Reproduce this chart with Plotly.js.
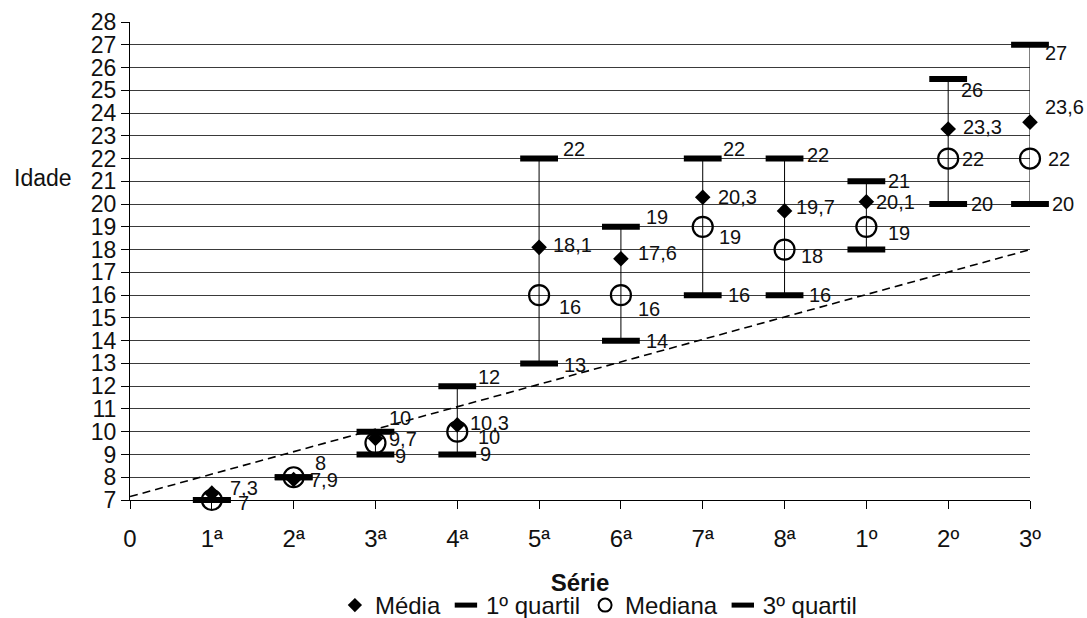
<!DOCTYPE html>
<html>
<head>
<meta charset="utf-8">
<script src="https://cdn.plot.ly/plotly-3.0.1.min.js"></script>
<style>
  html, body { margin: 0; padding: 0; background: #ffffff; }
  #chart { width: 1087px; height: 618px; }
</style>
</head>
<body>
<div id="chart"></div>
<script>
// ---------- data ----------
const categories = ["0", "1ª", "2ª", "3ª", "4ª", "5ª", "6ª", "7ª", "8ª", "1º", "2º", "3º"];
const series = ["1ª", "2ª", "3ª", "4ª", "5ª", "6ª", "7ª", "8ª", "1º", "2º", "3º"];
const media    = [7.3, 7.9, 9.7, 10.3, 18.1, 17.6, 20.3, 19.7, 20.1, 23.3, 23.6];
const quartil1 = [7, 8, 9, 9, 13, 14, 16, 16, 18, 20, 20];
const mediana  = [7, 8, 9.5, 10, 16, 16, 19, 18, 19, 22, 22];
const quartil3 = [7, 8, 10, 12, 22, 19, 22, 22, 21, 25.5, 27];

// data-label texts as printed in the reference (blank = not printed)
const rotuloMedia    = ["7,3", "7,9", "9,7", "10,3", "18,1", "17,6", "20,3", "19,7", "20,1", "23,3", "23,6"];
const rotuloQ1       = ["", "", "9", "9", "13", "14", "16", "16", "", "20", "20"];
const rotuloMediana  = ["7", "", "", "10", "16", "16", "19", "18", "19", "22", "22"];
const rotuloQ3       = ["", "8", "10", "12", "22", "19", "22", "22", "21", "26", "27"];

// dashed reference line
const refX = ["0", "3º"];
const refY = [7.15, 18];

// y axis ticks
const yTicks = [7, 8, 9, 10, 11, 12, 13, 14, 15, 16, 17, 18, 19, 20, 21, 22, 23, 24, 25, 26, 27, 28];

// ---------- label placement (pixels: dx right, dy down) ----------
const offMedia   = [[18,-5],[16,0],[14,0],[13,-2],[14,-2],[17,-6],[15,0],[11,-4],[10,0],[15,-2],[15,-15]];
const offQ1      = [[0,0],[0,0],[20,2],[23,0],[25,2],[25,0],[25,0],[24,0],[0,0],[23,0],[22,0]];
const offMediana = [[26,3],[0,0],[0,0],[21,5],[20,12],[17,14],[16,10],[16,6],[22,6],[14,0],[18,0]];
const offQ3      = [[0,0],[21,-14],[14,-14],[21,-9],[24,-10],[25,-10],[20,-10],[22,-4],[22,0],[13,11],[15,8]];

const FONT = "Liberation Sans, Arial, Helvetica, sans-serif";
const INK = "#111111";

// whiskers built from quartiles
const wx = [], wy = [];
series.forEach((s, i) => { wx.push(s, s, null); wy.push(quartil1[i], quartil3[i], null); });

const traces = [
  { x: refX, y: refY, type: "scatter", mode: "lines", showlegend: false, hoverinfo: "skip",
    line: { color: "#000000", width: 1.6, dash: "8px,5px" } },
  { x: wx, y: wy, type: "scatter", mode: "lines", showlegend: false, hoverinfo: "skip",
    line: { color: "#000000", width: 1 } },
  { x: series, y: quartil1, name: "1º quartil", type: "scatter", mode: "markers", showlegend: false, cliponaxis: false,
    marker: { symbol: "line-ew", size: 27, color: "#000000", line: { color: "#000000", width: 6 } } },
  { x: series, y: quartil3, name: "3º quartil", type: "scatter", mode: "markers", showlegend: false, cliponaxis: false,
    marker: { symbol: "line-ew", size: 27, color: "#000000", line: { color: "#000000", width: 6 } } },
  { x: series, y: mediana, name: "Mediana", type: "scatter", mode: "markers", showlegend: false, cliponaxis: false,
    marker: { symbol: "circle-open", size: 20, color: "#000000", line: { color: "#000000", width: 2.2 } } },
  { x: series, y: media, name: "Média", type: "scatter", mode: "markers", showlegend: false, cliponaxis: false,
    marker: { symbol: "diamond", size: 12, color: "#000000", line: { width: 0 } } },
  // legend entries (no points drawn)
  { x: [null], y: [null], name: "Média", type: "scatter", mode: "markers", legendrank: 1,
    marker: { symbol: "diamond", size: 11, color: "#000000", line: { width: 0 } } },
  { x: [null], y: [null], name: "1º quartil", type: "scatter", mode: "markers", legendrank: 2,
    marker: { symbol: "line-ew", size: 18, color: "#000000", line: { color: "#000000", width: 5 } } },
  { x: [null], y: [null], name: "Mediana", type: "scatter", mode: "markers", legendrank: 3,
    marker: { symbol: "circle-open", size: 13, color: "#000000", line: { color: "#000000", width: 2 } } },
  { x: [null], y: [null], name: "3º quartil", type: "scatter", mode: "markers", legendrank: 4,
    marker: { symbol: "line-ew", size: 18, color: "#000000", line: { color: "#000000", width: 5 } } }
];

const annotations = [];
function addLabels(vals, texts, offs) {
  series.forEach((s, i) => {
    if (!texts[i]) return;
    annotations.push({
      x: s, y: vals[i], xref: "x", yref: "y", text: texts[i], showarrow: false,
      xanchor: "left", yanchor: "middle", xshift: offs[i][0] - 2, yshift: -offs[i][1],
      font: { family: FONT, size: 20, color: INK }
    });
  });
}
addLabels(media, rotuloMedia, offMedia);
addLabels(quartil1, rotuloQ1, offQ1);
addLabels(mediana, rotuloMediana, offMediana);
addLabels(quartil3, rotuloQ3, offQ3);

annotations.push({
  xref: "paper", yref: "paper", x: -0.097, y: (500 - 178) / 478, text: "Idade", showarrow: false,
  xanchor: "center", yanchor: "middle", font: { family: FONT, size: 23, color: INK }
});

const layout = {
  width: 1087, height: 618,
  margin: { l: 130, r: 57, t: 22, b: 118, autoexpand: false },
  paper_bgcolor: "#ffffff", plot_bgcolor: "#ffffff",
  font: { family: FONT, color: INK },
  xaxis: {
    type: "category", categoryorder: "array", categoryarray: categories,
    tickvals: categories, ticktext: categories,
    range: [0, categories.length - 1],
    showgrid: false, zeroline: false,
    showline: true, linecolor: "#000000", linewidth: 1,
    ticks: "outside", ticklen: 8, tickcolor: "#000000", tickwidth: 1,
    ticklabelstandoff: 9,
    tickfont: { family: FONT, size: 24, color: INK },
    title: { text: "<b>Série</b>", font: { family: FONT, size: 24, color: INK }, standoff: 23 },
    automargin: false
  },
  yaxis: {
    range: [7, 28], tickvals: yTicks, ticktext: yTicks.map(String),
    showgrid: true, gridcolor: "#3a3a3a", gridwidth: 1, zeroline: false,
    showline: true, linecolor: "#000000", linewidth: 1,
    ticks: "outside", ticklen: 8, tickcolor: "#000000", tickwidth: 1,
    tickfont: { family: FONT, size: 23, color: INK },
    automargin: false
  },
  showlegend: true,
  legend: {
    orientation: "h", x: 0.521, xanchor: "center", y: (500 - 583) / 478, yanchor: "top",
    traceorder: "normal", font: { family: FONT, size: 24, color: INK },
    bgcolor: "rgba(0,0,0,0)", itemwidth: 30, tracegroupgap: 0
  },
  annotations: annotations
};

Plotly.newPlot("chart", traces, layout, { displayModeBar: false, staticPlot: true });
</script>
</body>
</html>
